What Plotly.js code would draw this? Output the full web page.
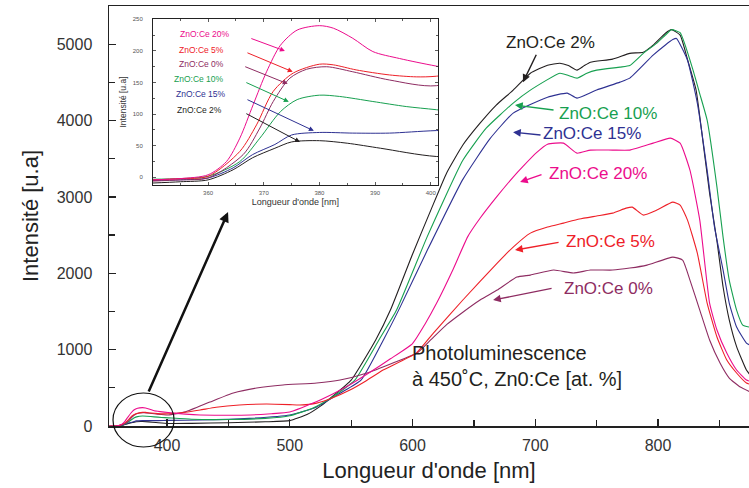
<!DOCTYPE html>
<html>
<head>
<meta charset="utf-8">
<script src="https://cdn.plot.ly/plotly-3.0.1.min.js"></script>
<style>html,body{margin:0;padding:0;background:#fff;}#chart{width:749px;height:488px;}</style>
</head>
<body>
<div id="chart"></div>
<script>
// ---- Data (wavelength in nm, intensity in a.u.) ----
const series_names = ["ZnO:Ce 2%", "ZnO:Ce 15%", "ZnO:Ce 10%", "ZnO:Ce 0%", "ZnO:Ce 5%", "ZnO:Ce 20%"];

const wl_2 = [350,355,360,364.5,368,372,375,380,385,391,401,420,450,480,500,514,525,535,550,570,582,600,615,628,641,655,668,682,696,710,720,727,734,740,745,763,777,788,796,806,811,818,824,831,836,842,848,853,858,864,872,876];
const int_2 = [-9,-7,-4,12,31,46,56,58,54,46,33,35,43,55,70,150,260,390,600,1126,1518,2250,2830,3320,3680,3966,4200,4398,4620,4725,4751,4720,4660,4720,4764,4804,4880,4895,4987,5144,5190,5118,4800,4400,3800,3050,2420,1820,1390,1040,733,650];

const wl_10 = [350,355,360,365.7,369.3,373,376,380,383.6,389.6,395.6,401,420,450,480,500,519,535,553,572.6,587,612,641,660,682,696,720,727,734,742,750,769,777,788,799,806,811,818,828.5,834,840,848,853,858,864,869,876];
const int_10 = [-3,-2,1.6,25,62,104,123,130,128,120,112,107,88,85,100,135,235,380,600,1126,1518,2480,3480,3900,4228,4398,4620,4590,4555,4620,4660,4700,4720,4880,5013,5120,5190,5150,4660,4350,4005,3128,2470,1911,1518,1322,1290];

const wl_15 = [350,355,360,364.5,368,372,375,380,386,392.6,401,427,467,500,522,541,558,577,590,612,641,663,682,710,726,734,750,769,777,796,806,812,815,824,832,840,846,853,858,864,872,876];
const int_15 = [-5,-4,-1,15,36,52,67,71,70,70,74,78,100,144,250,430,600,1150,1560,2300,3230,3760,4097,4306,4359,4293,4400,4503,4555,4856,4990,5060,5075,4790,4228,3350,2605,2042,1610,1296,1086,1050];

const wl_20 = [350,355,360,363.3,365.7,368.1,370.5,373,376,380,382.5,386,389.6,394.4,401,415,427,450,468,485,500,519,535,549,565,582,600,610,620,633,645,655,669,682,690,701,710,723,734,745,763,777,796,810,818,826,834,842,848,856,864,872,876];
const int_20 = [-4,-2,4,25,62,115,167,209,233,240,236,220,199,188,176,155,144,140,144,160,183,300,420,540,700,880,1080,1330,1620,2050,2480,2720,3010,3260,3400,3580,3690,3704,3573,3613,3613,3613,3704,3770,3704,3350,2696,1610,1257,955,733,602,580];

const wl_5 = [350,355,360,365.7,368.7,371.7,375.3,380,382.5,386.6,392.6,397.4,401,415,427,440,459,481,500,508,522,535,549,562,576,603,617,641,669,682,696,710,723,736,750,763,774,779,788,799,812,818,824,832,840,848,856,864,872,876];
const int_5 = [-4,-2,1.6,41,83,136,165,179,178,170,162,159,160,180,209,245,275,288,280,275,300,370,471,590,733,955,1217,1650,2133,2343,2526,2605,2657,2710,2750,2788,2853,2866,2762,2827,2932,2893,2696,2264,1610,1165,864,694,563,540];

const wl_0 = [350,355,360,366.3,369.3,371.7,374.7,377.7,381.3,386,392.6,401,415,435,454,473,494.5,522,541,563,584,604,615,628,641,655,669,685,696,715,731,745,763,777,791,812,820,826,834,842,850.5,858,867,876];
const int_0 = [-6,-4,-1,36,78,120,157,171,175,167,154,145,185,314,432,497,537,563,602,694,825,960,1130,1330,1490,1650,1780,1950,1976,2042,2003,2042,2042,2068,2107,2212,2173,1911,1518,1126,825,628,510,440];

const x_tick_labels = ["400","500","600","700","800"];
const y_tick_labels = ["0","1000","2000","3000","4000","5000"];

// ---- Styles ----
const colors = {
  c2: "#231f20", c15: "#2e3192", c10: "#17a050", c0: "#8e2c62", c5: "#ee2028", c20: "#ec0c8c"
};
const FONT = "Liberation Sans, Arial, Helvetica, sans-serif";

const seriesDefs = [
  {x: wl_2,  y: int_2,  c: colors.c2,  n: series_names[0]},
  {x: wl_15, y: int_15, c: colors.c15, n: series_names[1]},
  {x: wl_10, y: int_10, c: colors.c10, n: series_names[2]},
  {x: wl_0,  y: int_0,  c: colors.c0,  n: series_names[3]},
  {x: wl_5,  y: int_5,  c: colors.c5,  n: series_names[4]},
  {x: wl_20, y: int_20, c: colors.c20, n: series_names[5]}
];

const traces = [];
seriesDefs.forEach(s => {
  traces.push({x: s.x, y: s.y, type: "scatter", mode: "lines", name: s.n,
    line: {color: s.c, width: 1.1, shape: "spline", smoothing: 0.45}, xaxis: "x", yaxis: "y", showlegend: false});
});
seriesDefs.forEach(s => {
  traces.push({x: s.x, y: s.y, type: "scatter", mode: "lines", name: s.n + " (zoom)",
    line: {color: s.c, width: 1, shape: "spline", smoothing: 0.8}, xaxis: "x2", yaxis: "y2", showlegend: false});
});

// main labels: [text, color, textX, textY, tailX, tailY, headX, headY]
const mainLabels = [
  ["ZnO:Ce 2%",  colors.c2,  712, 5026, 701.4, 4882, 690.0, 4503],
  ["ZnO:Ce 10%", colors.c10, 759.3, 4097, 716.1, 4136, 683.5, 4202],
  ["ZnO:Ce 15%", colors.c15, 746.2, 3835, 705.5, 3809, 681.9, 3848],
  ["ZnO:Ce 20%", colors.c20, 751.1, 3312, 706.3, 3298, 687.6, 3194],
  ["ZnO:Ce 5%",  colors.c5,  760.9, 2421, 720.2, 2408, 683.5, 2304],
  ["ZnO:Ce 0%",  colors.c0,  759.3, 1806, 714.5, 1806, 665.6, 1649]
];
// inset labels
const insetLabels = [
  ["ZnO:Ce 20%", colors.c20, 359.4, 227, 367.5, 220.5, 373.8, 200],
  ["ZnO:Ce 5%",  colors.c5,  358.9, 201.6, 366.8, 198, 375.2, 167],
  ["ZnO:Ce 0%",  colors.c0,  358.9, 179, 366.4, 176, 374.3, 148],
  ["ZnO:Ce 10%", colors.c10, 358.3, 155.7, 366.6, 151, 374.5, 119.5],
  ["ZnO:Ce 15%", colors.c15, 358.7, 132, 366.8, 124, 379, 73.6],
  ["ZnO:Ce 2%",  colors.c2,  358.5, 107, 366.6, 102, 376.5, 56]
];

const annotations = [];
mainLabels.forEach(l => {
  annotations.push({x: l[2], y: l[3], xref: "x", yref: "y", text: l[0], showarrow: false,
    font: {family: FONT, size: 17, color: l[1]}, xanchor: "center", yanchor: "middle"});
  annotations.push({x: l[6], y: l[7], ax: l[4], ay: l[5], xref: "x", yref: "y", axref: "x", ayref: "y",
    text: "", showarrow: true, arrowhead: 2, arrowsize: 1.1, arrowwidth: 1.4, arrowcolor: l[1], standoff: 0});
});
insetLabels.forEach(l => {
  annotations.push({x: l[2], y: l[3], xref: "x2", yref: "y2", text: l[0], showarrow: false,
    font: {family: FONT, size: 8.5, color: l[1]}, xanchor: "center", yanchor: "middle"});
  annotations.push({x: l[6], y: l[7], ax: l[4], ay: l[5], xref: "x2", yref: "y2", axref: "x2", ayref: "y2",
    text: "", showarrow: true, arrowhead: 2, arrowsize: 1, arrowwidth: 1, arrowcolor: l[1], standoff: 0});
});
annotations.push({x: 598, y: 790, xref: "x", yref: "y", xanchor: "left", yanchor: "middle", align: "left",
  text: "Photoluminescence<br>à 450˚C, Zn0:Ce [at. %]", showarrow: false,
  font: {family: FONT, size: 20, color: "#231f20"}});
// big arrow from circle to inset
annotations.push({x: 0.186, y: 0.5095, xref: "paper", yref: "paper", ax: -80, ay: 181, text: "",
  showarrow: true, arrowhead: 2, arrowsize: 0.8, arrowwidth: 2.5, arrowcolor: "#111", standoff: 0});

const layout = {
  width: 749, height: 488,
  margin: {l: 109, r: 0, t: 6, b: 62, pad: 0},
  paper_bgcolor: "#fff", plot_bgcolor: "#fff",
  font: {family: FONT, color: "#333"},
  showlegend: false,
  xaxis: {
    domain: [0, 1], range: [352.75, 874.1], anchor: "y",
    tickmode: "array", tickvals: x_tick_labels.map(Number), ticktext: x_tick_labels,
    ticks: "inside", ticklen: 7, tickwidth: 1.2, tickcolor: "#222",
    minor: {ticks: "inside", dtick: 50, tick0: 0, ticklen: 6, tickwidth: 1.2, tickcolor: "#222"},
    showline: true, linecolor: "#222", linewidth: 1.5, mirror: true,
    showgrid: false, zeroline: false,
    tickfont: {family: FONT, size: 16, color: "#333"}, ticklabelstandoff: 4,
    title: {text: "Longueur d'onde [nm]", font: {family: FONT, size: 22, color: "#222"}, standoff: 10}
  },
  yaxis: {
    domain: [0, 1], range: [0, 5500], anchor: "x",
    tickmode: "array", tickvals: y_tick_labels.map(Number), ticktext: y_tick_labels,
    ticks: "inside", ticklen: 7, tickwidth: 1.2, tickcolor: "#222",
    minor: {ticks: "inside", dtick: 500, tick0: 0, ticklen: 6, tickwidth: 1.2, tickcolor: "#222"},
    showline: true, linecolor: "#222", linewidth: 1.5, mirror: false,
    showgrid: false, zeroline: false,
    tickfont: {family: FONT, size: 16, color: "#333"}, ticklabelstandoff: 12,
    title: {text: "Intensité [u.a]", font: {family: FONT, size: 22, color: "#222"}, standoff: 12}
  },
  xaxis2: {
    domain: [0.06875, 0.514], range: [350.1, 401.3], anchor: "y2",
    dtick: 10, tick0: 0, ticks: "inside", ticklen: 3, tickwidth: 0.8, tickcolor: "#333",
    minor: {ticks: "inside", dtick: 5, tick0: 0, ticklen: 2, tickwidth: 0.8, tickcolor: "#333"},
    showline: true, linecolor: "#222", linewidth: 1, mirror: "ticks",
    showgrid: false, zeroline: false,
    tickfont: {family: FONT, size: 6, color: "#555"}, ticklabelstandoff: 2,
    title: {text: "Longueur d'onde [nm]", font: {family: FONT, size: 9, color: "#333"}, standoff: 3}
  },
  yaxis2: {
    domain: [0.574, 0.969], range: [-12, 250.5], anchor: "x2",
    dtick: 50, tick0: 0, ticks: "inside", ticklen: 3, tickwidth: 0.8, tickcolor: "#333",
    minor: {ticks: "inside", dtick: 25, tick0: 0, ticklen: 2, tickwidth: 0.8, tickcolor: "#333"},
    showline: true, linecolor: "#222", linewidth: 1, mirror: "ticks",
    showgrid: false, zeroline: false,
    tickfont: {family: FONT, size: 6, color: "#555"}, ticklabelstandoff: 8,
    title: {text: "Intensité [u.a]", font: {family: FONT, size: 8.5, color: "#333"}, standoff: 4}
  },
  shapes: [
    {type: "circle", xref: "paper", yref: "paper", x0: 0.00625, x1: 0.1016, y0: -0.05, y1: 0.0786,
     line: {color: "#111", width: 1.2}, fillcolor: "rgba(0,0,0,0)"}
  ],
  annotations: annotations
};

Plotly.newPlot("chart", traces, layout, {staticPlot: true, displayModeBar: false});
</script>
</body>
</html>
